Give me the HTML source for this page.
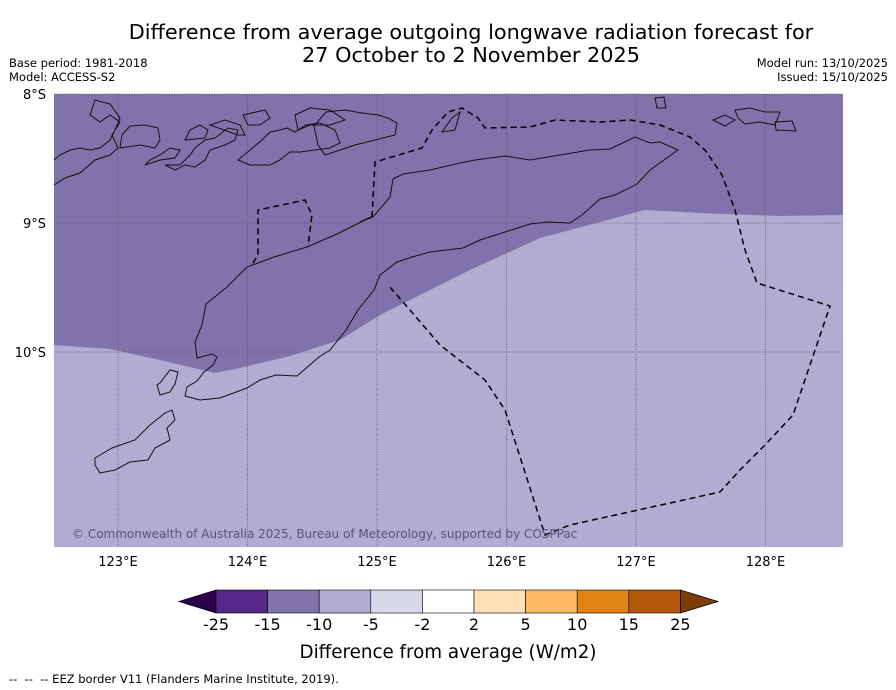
<!DOCTYPE html>
<html><head><meta charset="utf-8">
<style>
html,body{margin:0;padding:0;background:#fff;}
svg{display:block;font-family:"DejaVu Sans","Liberation Sans",sans-serif;}
</style></head>
<body>
<svg id="chart" width="896" height="690" viewBox="0 0 896 690">
  <text x="471" y="39" font-size="20.8" text-anchor="middle">Difference from average outgoing longwave radiation forecast for</text>
  <text x="471" y="62" font-size="20.8" text-anchor="middle">27 October to 2 November 2025</text>
  <text x="9" y="67" font-size="11.5">Base period: 1981-2018</text>
  <text x="9" y="81" font-size="11.5">Model: ACCESS-S2</text>
  <text x="888" y="67" font-size="11.5" text-anchor="end">Model run: 13/10/2025</text>
  <text x="888" y="81" font-size="11.5" text-anchor="end">Issued: 15/10/2025</text>

  <g id="map">
    <rect x="54" y="94" width="789" height="453" fill="#b2abd2"/>
    <polygon points="54,94 843,94 843,215 780,216 700,213 645,210 600,222 540,238 470,270 420,295 380,315 340,340 290,356 240,368 215,373 160,360 110,349 54,345" fill="#8073ac"/>
    <g id="grid" stroke="#555" stroke-width="0.8" stroke-dasharray="1,1.5" fill="none"></g>
    <g fill="none" stroke="#111" stroke-width="1">
      <path d="M360,222 L373,217 L390,197 L393,179 L403,174 L430,170 L460,163 L475,160 L505,156 L530,160 L560,155 L590,150 L610,149 L635,137 L650,143 L660,142 L678,150 L650,170 L637,184 L615,195 L600,199 L582,215 L570,223 L548,222 L530,224 L505,232 L480,240 L463,248 L430,252 L412,257 L397,262 L380,275 L374,290 L358,310 L346,330 L330,350 L319,357 L297,376 L276,375 L260,380 L247,388 L220,398 L200,400 L185,396 L187,387 L197,381 L204,372 L213,365 L217,357 L212,354 L197,358 L195,342 L202,325 L206,304 L227,287 L247,267 L274,257 L307,247 L337,234 L371,217 Z"/>
      <path d="M160,383 L170,370 L178,372 L175,384 L170,392 L160,395 L157,385 Z"/>
      <path d="M95,458 L112,448 L135,440 L150,425 L165,413 L172,410 L175,420 L167,428 L170,440 L155,448 L148,460 L130,462 L115,470 L100,473 L95,465 Z"/>
      <path d="M54,185 L65,178 L80,173 L95,160 L110,155 L118,148 L112,135 L120,122 L110,115 L100,122 L90,115 L95,100 L110,104 L120,118 L115,130 L110,140 L100,148 L90,150 L80,148 L70,150 L60,155 L54,160"/>
      <path d="M120,148 L140,145 L155,148 L160,140 L158,128 L145,125 L130,126 L122,135 Z"/>
      <path d="M145,165 L160,160 L175,158 L180,150 L170,148 L160,155 L150,160 Z"/>
      <path d="M165,165 L180,165 L190,155 L195,148 L205,140 L215,138 L228,128 L238,130 L235,140 L225,145 L210,150 L205,160 L195,167 L185,165 L175,170 Z"/>
      <path d="M185,140 L190,130 L200,125 L208,130 L205,138 Z"/>
      <path d="M210,125 L225,120 L240,125 L245,135 L238,135 Z"/>
      <path d="M238,160 L250,150 L262,140 L270,132 L280,130 L287,128 L295,132 L306,125 L320,123 L335,130 L340,143 L330,148 L315,150 L300,152 L290,152 L280,160 L270,165 L250,165 Z"/>
      <path d="M295,115 L310,108 L330,110 L345,120 L330,125 L310,125 L298,130 Z"/>
      <path d="M243,115 L265,110 L270,118 L260,125 L248,125 Z"/>
      <path d="M314,126 L326,112 L345,110 L362,113 L378,115 L388,118 L397,123 L395,135 L375,140 L355,145 L340,150 L325,155 L318,145 Z"/>
      <path d="M442,132 L452,118 L460,112 L455,130 Z"/>
      <path d="M655,98 L664,97 L666,108 L657,108 Z"/>
      <path d="M713,120 L725,115 L735,120 L725,126 Z"/>
      <path d="M735,110 L750,108 L765,112 L780,112 L775,125 L760,122 L745,124 L738,118 Z"/>
      <path d="M775,122 L792,121 L796,131 L776,130 Z"/>
    </g>
    <g fill="none" stroke="#000" stroke-width="1.5" stroke-dasharray="6,4">
      <path d="M253,263 L258,255 L258,210 L305,200 L312,215 L308,246"/>
      <path d="M372,217 L375,162 L422,148 L432,130 L448,112 L462,108 L478,118 L485,128 L530,127 L555,120 L600,122 L630,120 L660,125 L690,137 L705,150 L722,175 L735,210 L745,250 L757,283 L830,306 L793,415 L765,445 L740,470 L720,492 L570,525 L545,535 L505,410 L485,380 L440,345 L410,310 L388,285"/>
    </g>
    <text x="72" y="538" font-size="12" fill="#5a5080">© Commonwealth of Australia 2025, Bureau of Meteorology, supported by COSPPac</text>
  </g>
  <g id="axisLabels" font-size="13"></g>

  <g id="colorbar"></g>
  <text x="448" y="658" font-size="18.3" text-anchor="middle">Difference from average (W/m2)</text>
  <text x="9" y="683" font-size="11.5" style="white-space:pre" xml:space="preserve">--  --  -- EEZ border V11 (Flanders Marine Institute, 2019).</text>
</svg>
<script>
const lonTicks = [123, 124, 125, 126, 127, 128];
const latTicks = [8, 9, 10];
const cbLevels = ["-25","-15","-10","-5","-2","2","5","10","15","25"];
const cbColors = ["#542788","#8073ac","#b2abd2","#d8daeb","#ffffff","#fee0b6","#fdb863","#e08214","#b35806"];
const cbExtendLow = "#2d004b";
const cbExtendHigh = "#7f3b08";

const NS = "http://www.w3.org/2000/svg";
const x = lon => 118 + (lon - 123) * 129.5;
const y = lat => 94 + (lat - 8) * 129;
function mk(tag, attrs, parent){ const e=document.createElementNS(NS,tag); for(const k in attrs) e.setAttribute(k,attrs[k]); parent.appendChild(e); return e; }

const grid = document.getElementById('grid');
const lab = document.getElementById('axisLabels');
lonTicks.forEach(l=>{
  const ln = mk('line',{x1:x(l),x2:x(l),y1:94,y2:547},grid);
  
  
  const t = mk('text',{x:x(l),y:566,'text-anchor':'middle'},lab);
  t.textContent = l + '°E';
  
  
});
latTicks.forEach(l=>{
  const ln = mk('line',{x1:54,x2:843,y1:y(l),y2:y(l)},grid);
  
  
  const t = mk('text',{x:46,y:y(l)+5,'text-anchor':'end'},lab);
  t.textContent = l + '°S';
  
  
});

const cb = document.getElementById('colorbar');
const cx0 = 216, cw = 51.6, cy = 590, ch = 23;
const lowTri = mk('polygon',{points:`${cx0},${cy} ${cx0},${cy+ch} 179,${cy+ch/2}`,fill:cbExtendLow,stroke:'#000','stroke-width':0.8},cb);


cbColors.forEach((c,i)=>{
  const r = mk('rect',{x:cx0+i*cw,y:cy,width:cw,height:ch,fill:c,stroke:'#000','stroke-width':0.6},cb);
  
  
});
const xe = cx0 + cbColors.length*cw;
const hiTri = mk('polygon',{points:`${xe},${cy} ${xe},${cy+ch} 718,${cy+ch/2}`,fill:cbExtendHigh,stroke:'#000','stroke-width':0.8},cb);


cbLevels.forEach((v,i)=>{
  const t = mk('text',{x:cx0+i*cw,y:630,'text-anchor':'middle','font-size':16},cb);
  t.textContent = v;
  
  
});
</script>
</body></html>
